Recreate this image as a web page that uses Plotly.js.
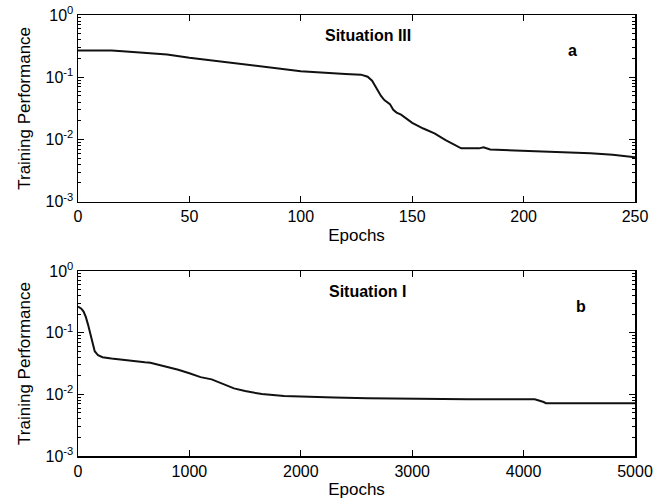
<!DOCTYPE html>
<html><head><meta charset="utf-8">
<script src="https://cdn.plot.ly/plotly-3.0.1.min.js"></script>
<style>body{margin:0;background:#fff}</style>
</head><body><div id="chart" style="width:664px;height:502px"></div>
<script>
// Panel a: Situation III (0-250 epochs)
const epochsA = [0,10,15,20,30,40,50,60,70,80,90,100,110,120,127,130,132,134,136,137.5,139,140,141.5,143,145,150,155,160,165,170,172,180,182,185,190,200,210,220,230,240,250];
const perfA   = [0.27,0.27,0.268,0.262,0.25,0.232,0.205,0.185,0.165,0.15,0.138,0.125,0.118,0.113,0.11,0.102,0.088,0.066,0.05,0.043,0.04,0.037,0.030,0.027,0.025,0.0185,0.015,0.0125,0.0098,0.0078,0.0072,0.0072,0.0075,0.0069,0.0068,0.0066,0.0064,0.0063,0.006,0.0057,0.0052];
// Panel b: Situation I (0-5000 epochs)
const epochsB = [0,30,50,70,90,110,130,150,180,220,300,400,500,600,650,700,800,900,1000,1100,1200,1300,1400,1500,1650,1850,2050,2300,2600,3000,3500,4000,4100,4180,4200,4550,5000];
const perfB   = [0.265,0.245,0.22,0.18,0.135,0.1,0.068,0.05,0.043,0.04,0.038,0.036,0.034,0.033,0.0325,0.031,0.028,0.025,0.022,0.019,0.0175,0.015,0.0125,0.0113,0.0101,0.0094,0.0091,0.0089,0.0086,0.0084,0.0083,0.0083,0.0083,0.0075,0.0072,0.0072,0.0072];

const yTickVals = [0.001,0.01,0.1,1];
const yTickText = ['10<sup>-3</sup>','10<sup>-2</sup>','10<sup>-1</sup>','10<sup>0</sup>'];
const xTicksA = [0,50,100,150,200,250];
const xTicksB = [0,1000,2000,3000,4000,5000];
const mantissas = [2,3,4,5,6,7,8,9];
const decades = [0.001,0.01,0.1];
const minorVals = [];
decades.forEach(d => mantissas.forEach(m => minorVals.push(m*d)));

const FONT = 'Liberation Sans, Arial, sans-serif';
const tickFont = {family: FONT, size: 16, color: '#000'};
const titleFont = {family: FONT, size: 17, color: '#000'};

function yAxis(domain, anchor) {
  return {
    domain: domain, anchor: anchor, type: 'log', range: [-3, 0],
    tickmode: 'array', tickvals: yTickVals, ticktext: yTickText,
    ticks: 'inside', ticklen: 6, tickwidth: 1, tickcolor: '#000',
    showline: true, linecolor: '#000', linewidth: 1.5, mirror: 'ticks',
    showgrid: false, zeroline: false,
    minor: {tickmode: 'array', tickvals: minorVals, ticks: 'inside', ticklen: 3, tickwidth: 1, tickcolor: '#000', showgrid: false},
    tickfont: tickFont,
    title: {text: 'Training Performance', font: titleFont, standoff: 10},
    automargin: false
  };
}
function xAxis(ticks, anchor) {
  return {
    anchor: anchor, range: [ticks[0], ticks[ticks.length-1]],
    tickmode: 'array', tickvals: ticks, ticktext: ticks.map(String),
    ticks: 'inside', ticklen: 6, tickwidth: 1, tickcolor: '#000',
    showline: true, linecolor: '#000', linewidth: 1.5, mirror: 'ticks',
    showgrid: false, zeroline: false,
    tickfont: tickFont,
    title: {text: 'Epochs', font: titleFont, standoff: 4},
    automargin: false
  };
}

const lineStyle = {color: '#111', width: 2};
const data = [
  {x: epochsA, y: perfA, type: 'scatter', mode: 'lines', line: lineStyle, xaxis: 'x', yaxis: 'y', showlegend: false},
  {x: epochsB, y: perfB, type: 'scatter', mode: 'lines', line: lineStyle, xaxis: 'x2', yaxis: 'y2', showlegend: false}
];

const annFont = {family: FONT, size: 16, color: '#000'};
function ann(xref, yref, x, y, text) {
  return {xref: xref, yref: yref, x: x, y: y, text: text, showarrow: false, font: annFont, xanchor: 'center', yanchor: 'middle'};
}
const layout = {
  width: 664, height: 502,
  margin: {l: 78, r: 29, t: 15, b: 46},
  paper_bgcolor: '#fff', plot_bgcolor: '#fff',
  xaxis: xAxis(xTicksA, 'y'),
  yaxis: yAxis([0.5766, 1], 'x'),
  xaxis2: xAxis(xTicksB, 'y2'),
  yaxis2: yAxis([0, 0.4195], 'x2'),
  annotations: [
    ann('x domain', 'y domain', 0.52, 0.89, '<b>Situation III</b>'),
    ann('x domain', 'y domain', 0.888, 0.81, '<b>a</b>'),
    ann('x2 domain', 'y2 domain', 0.52, 0.89, '<b>Situation I</b>'),
    ann('x2 domain', 'y2 domain', 0.903, 0.81, '<b>b</b>')
  ]
};
Plotly.newPlot('chart', data, layout, {displayModeBar: false, staticPlot: true});
</script></body></html>
